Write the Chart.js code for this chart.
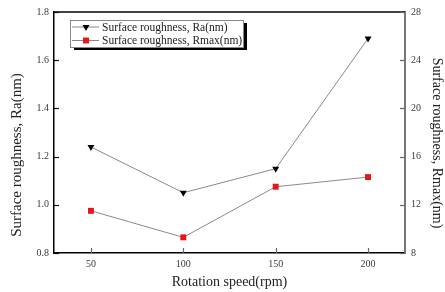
<!DOCTYPE html>
<html>
<head>
<meta charset="utf-8">
<script src="https://cdn.jsdelivr.net/npm/chart.js@4.4.0/dist/chart.umd.min.js"></script>
<style>
  html, body { margin: 0; padding: 0; background: #fff; }
</style>
</head>
<body>
<canvas id="roughChart" width="445" height="292"></canvas>
<script>
'use strict';

// data
var speeds = [50, 100, 150, 200];
var raValues = [1.24, 1.05, 1.15, 1.69];
var rmaxValues = [11.5, 9.3, 13.5, 14.3];
var raTicks = [0.8, 1.0, 1.2, 1.4, 1.6, 1.8];
var rmaxTicks = [8, 12, 16, 20, 24, 28];
var raLabel = 'Surface roughness, Ra(nm)';
var rmaxLabel = 'Surface roughness, Rmax(nm)';
var xLabel = 'Rotation speed(rpm)';

var serif = '"Liberation Serif", "Times New Roman", serif';
var textColor = '#222';
var tickColor = '#3a3a3a';

function points(values) {
  return speeds.map(function (s, i) { return { x: s, y: values[i] }; });
}

function fixTicks(list) {
  return function (scale) {
    scale.ticks = list.map(function (v) { return { value: v }; });
  };
}

// ticks point inward, top frame line, axis titles, boxed legend with shadow
var framePlugin = {
  id: 'frame',
  afterDraw: function (chart) {
    var ctx = chart.ctx;
    var area = chart.chartArea;
    var sx = chart.scales.x, sy = chart.scales.y, sy1 = chart.scales.y1;
    ctx.save();

    ctx.strokeStyle = '#000';
    ctx.lineWidth = 1.5;
    ctx.beginPath();
    ctx.moveTo(area.left, area.top);
    ctx.lineTo(area.right, area.top);
    ctx.stroke();

    ctx.lineWidth = 1.2;
    ctx.strokeStyle = '#111';
    raTicks.forEach(function (v) {
      var y = Math.round(sy.getPixelForValue(v)) + 0.5;
      ctx.beginPath();
      ctx.moveTo(area.left, y);
      ctx.lineTo(area.left + 5, y);
      ctx.stroke();
    });
    ctx.strokeStyle = '#666';
    rmaxTicks.forEach(function (v) {
      var y = Math.round(sy1.getPixelForValue(v)) + 0.5;
      ctx.beginPath();
      ctx.moveTo(area.right - 5, y);
      ctx.lineTo(area.right, y);
      ctx.stroke();
    });
    speeds.forEach(function (v) {
      var x = Math.round(sx.getPixelForValue(v)) + 0.5;
      ctx.beginPath();
      ctx.moveTo(x, area.bottom);
      ctx.lineTo(x, area.bottom - 5);
      ctx.stroke();
    });

    // axis titles
    ctx.fillStyle = textColor;
    ctx.textAlign = 'center';
    ctx.textBaseline = 'middle';
    ctx.font = '15px ' + serif;
    ctx.save();
    ctx.translate(17, 155);
    ctx.rotate(-Math.PI / 2);
    ctx.fillText(raLabel, 0, 0);
    ctx.restore();
    ctx.font = '14px ' + serif;
    ctx.save();
    ctx.translate(437, 143);
    ctx.rotate(Math.PI / 2);
    ctx.fillText(rmaxLabel, 0, 0);
    ctx.restore();

    // legend
    var bx = 70, by = 20, bw = 173, bh = 27;
    ctx.fillStyle = '#000';
    ctx.fillRect(bx + 4, by + 3, bw, bh);
    ctx.fillStyle = '#fff';
    ctx.fillRect(bx, by, bw, bh);
    ctx.strokeStyle = '#888';
    ctx.lineWidth = 1;
    ctx.strokeRect(bx + 0.5, by + 0.5, bw, bh);

    var rows = [
      { y: 27, label: raLabel, style: 'triangle', color: '#000', rot: 180, r: 4 },
      { y: 40.5, label: rmaxLabel, style: 'rect', color: '#e8141b', rot: 0, r: 4.2 }
    ];
    rows.forEach(function (row) {
      ctx.strokeStyle = '#888';
      ctx.lineWidth = 1;
      ctx.beginPath();
      ctx.moveTo(72, row.y);
      ctx.lineTo(99, row.y);
      ctx.stroke();
      ctx.fillStyle = row.color;
      ctx.strokeStyle = row.color;
      Chart.helpers.drawPoint(ctx, { pointStyle: row.style, rotation: row.rot, radius: row.r, borderWidth: 0 }, 86, row.y);
      ctx.fillStyle = textColor;
      ctx.textAlign = 'left';
      ctx.font = '11.5px ' + serif;
      ctx.fillText(row.label, 102, row.y + 0.5);
    });

    ctx.restore();
  }
};

var ctx = document.getElementById('roughChart');
var roughChart = new Chart(ctx, {
  type: 'line',
  data: {
    datasets: [
      {
        label: raLabel,
        data: points(raValues),
        yAxisID: 'y',
        borderColor: '#8a8a8a',
        borderWidth: 1,
        pointStyle: 'triangle',
        rotation: 180,
        pointRadius: 4,
        pointBackgroundColor: '#000',
        pointBorderColor: '#000',
        pointBorderWidth: 0
      },
      {
        label: rmaxLabel,
        data: points(rmaxValues),
        yAxisID: 'y1',
        borderColor: '#8a8a8a',
        borderWidth: 1,
        pointStyle: 'rect',
        pointRadius: 4.2,
        pointBackgroundColor: '#e8141b',
        pointBorderColor: '#e8141b',
        pointBorderWidth: 0
      }
    ]
  },
  options: {
    responsive: false,
    animation: false,
    layout: { padding: { top: 12, left: 0, right: 0, bottom: 0 } },
    plugins: {
      legend: { display: false },
      tooltip: { enabled: false }
    },
    scales: {
      x: {
        type: 'linear',
        min: 30,
        max: 220,
        afterBuildTicks: fixTicks(speeds),
        afterFit: function (scale) { scale.height = 39; },
        grid: { display: false, drawTicks: false },
        border: { color: '#000', width: 1.5 },
        ticks: { color: tickColor, padding: 5, font: { family: serif, size: 10 } },
        title: {
          display: true,
          text: xLabel,
          color: textColor,
          padding: { top: 0, bottom: 1 },
          font: { family: serif, size: 14 }
        }
      },
      y: {
        position: 'left',
        min: 0.8,
        max: 1.8,
        afterBuildTicks: fixTicks(raTicks),
        afterFit: function (scale) { scale.width = 54; },
        grid: { display: false, drawTicks: false },
        border: { color: '#000', width: 1.5 },
        ticks: {
          color: tickColor,
          padding: 5,
          font: { family: serif, size: 10 },
          callback: function (v) { return v.toFixed(1); }
        }
      },
      y1: {
        position: 'right',
        min: 8,
        max: 28,
        afterBuildTicks: fixTicks(rmaxTicks),
        afterFit: function (scale) { scale.width = 40; },
        grid: { display: false, drawTicks: false },
        border: { color: '#777', width: 2 },
        ticks: { color: tickColor, padding: 6, font: { family: serif, size: 10 } }
      }
    }
  },
  plugins: [framePlugin]
});
</script>
</body>
</html>
